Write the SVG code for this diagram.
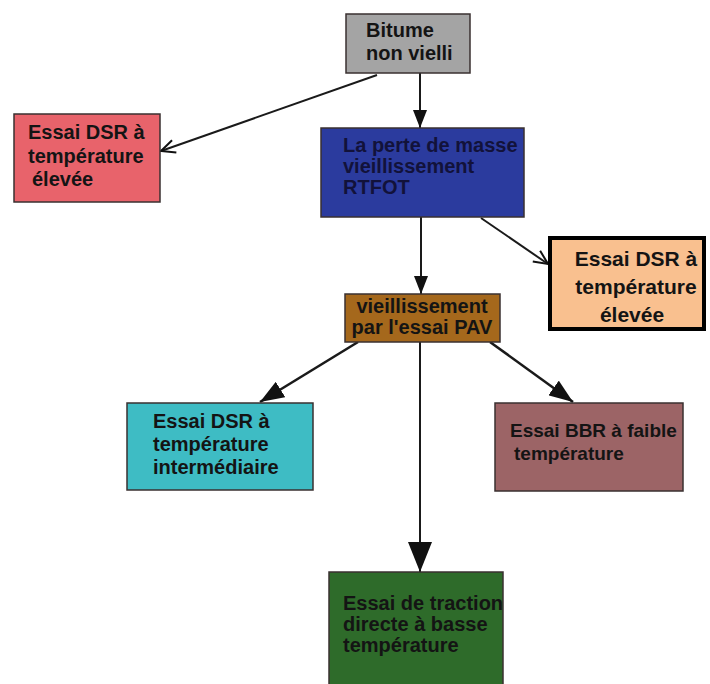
<svg xmlns="http://www.w3.org/2000/svg" width="710" height="684" viewBox="0 0 710 684">
<defs>
<style>
.t{font-family:"Liberation Sans",Arial,sans-serif;font-weight:bold;font-size:20px;fill:#141414}
.box{stroke:#3a3030;stroke-width:1.5}
.c{stroke:#1a1a1a;stroke-width:2;fill:none}
.d{stroke-width:2.6}
</style>
<marker id="tri" markerUnits="userSpaceOnUse" viewBox="0 0 18 14" markerWidth="18" markerHeight="14" refX="18" refY="7" orient="auto">
<path d="M0,0 L18,7 L0,14 z" fill="#111"/>
</marker>
<marker id="triM" markerUnits="userSpaceOnUse" viewBox="0 0 24 18" markerWidth="24" markerHeight="18" refX="24" refY="9" orient="auto">
<path d="M0,0 L24,9 L0,18 z" fill="#111"/>
</marker>
<marker id="triL" markerUnits="userSpaceOnUse" viewBox="0 0 30 24" markerWidth="30" markerHeight="24" refX="30" refY="12" orient="auto">
<path d="M0,0 L30,12 L0,24 z" fill="#111"/>
</marker>
<marker id="open" markerUnits="userSpaceOnUse" viewBox="-1 -1 17 15" markerWidth="17" markerHeight="15" refX="14" refY="6.5" orient="auto" overflow="visible">
<path d="M0,0 L14,6.5 L0,13" fill="none" stroke="#111" stroke-width="2"/>
</marker>
</defs>
<rect width="710" height="684" fill="#ffffff"/>

<g id="connectors">
<line class="c" x1="420" y1="73" x2="420" y2="128" marker-end="url(#tri)"/>
<line class="c" x1="377" y1="75" x2="161" y2="151" marker-end="url(#open)"/>
<line class="c" x1="421" y1="217" x2="421" y2="294" marker-end="url(#tri)"/>
<line class="c" x1="481" y1="218" x2="548" y2="264" marker-end="url(#open)"/>
<line class="c d" x1="358" y1="342" x2="260" y2="402" marker-end="url(#triM)"/>
<line class="c d" x1="490" y1="342" x2="573" y2="402" marker-end="url(#triM)"/>
<line class="c" x1="420" y1="342" x2="420" y2="572" marker-end="url(#triL)"/>
</g>

<g id="bitume">
<rect class="box" x="346" y="14" width="124" height="59" fill="#a4a4a4" stroke="#555"/>
<text class="t" x="366" y="37">Bitume</text>
<text class="t" x="366" y="60">non vielli</text>
</g>

<g id="dsr-eleve-1">
<rect class="box" x="14" y="114" width="146" height="88" fill="#e8636b"/>
<text class="t" x="28" y="139">Essai DSR à</text>
<text class="t" x="28" y="163">température</text>
<text class="t" x="32" y="186">élevée</text>
</g>

<g id="rtfot">
<rect class="box" x="321" y="128" width="203" height="89" fill="#2b3b9e" stroke="#222a5a"/>
<text class="t" x="343" y="152" style="fill:#12123a">La perte de masse</text>
<text class="t" x="343" y="173" style="fill:#12123a">vieillissement</text>
<text class="t" x="343" y="194" style="fill:#12123a">RTFOT</text>
</g>

<g id="dsr-eleve-2">
<rect x="550" y="238" width="154" height="91" fill="#f9c08f" stroke="#000" stroke-width="4"/>
<text class="t" x="636" y="266" text-anchor="middle" style="font-size:21px">Essai DSR à</text>
<text class="t" x="636" y="294" text-anchor="middle" style="font-size:21px">température</text>
<text class="t" x="632" y="322" text-anchor="middle" style="font-size:21px">élevée</text>
</g>

<g id="pav">
<rect class="box" x="345" y="294" width="155" height="48" fill="#a5681c"/>
<text class="t" x="422" y="313" text-anchor="middle">vieillissement</text>
<text class="t" x="422" y="334" text-anchor="middle">par l'essai PAV</text>
</g>

<g id="dsr-inter">
<rect class="box" x="127" y="403" width="186" height="87" fill="#3ebcc4"/>
<text class="t" x="153" y="428">Essai DSR à</text>
<text class="t" x="153" y="451">température</text>
<text class="t" x="153" y="474">intermédiaire</text>
</g>

<g id="bbr">
<rect class="box" x="495" y="403" width="188" height="88" fill="#9c6466"/>
<text class="t" x="510" y="437" style="font-size:19px">Essai BBR à faible</text>
<text class="t" x="514" y="460" style="font-size:19px">température</text>
</g>

<g id="traction">
<rect class="box" x="329" y="572" width="174" height="114" fill="#2e6b2a" stroke="#1f3f1c"/>
<text class="t" x="343" y="610">Essai de traction</text>
<text class="t" x="343" y="631">directe à basse</text>
<text class="t" x="343" y="652">température</text>
</g>
</svg>
